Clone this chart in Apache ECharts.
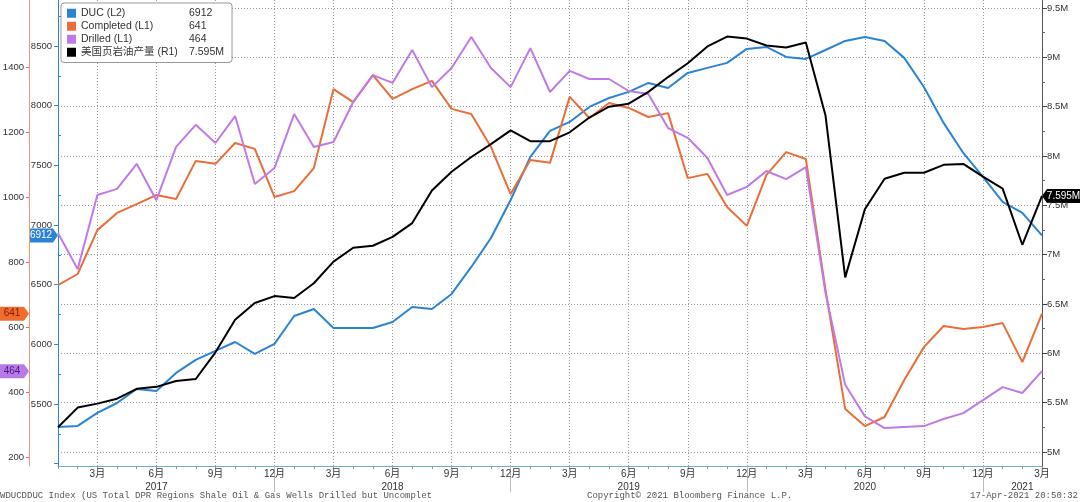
<!DOCTYPE html>
<html><head><meta charset="utf-8">
<script src="https://cdn.jsdelivr.net/npm/echarts@6/dist/echarts.min.js"></script>
<style>html,body{margin:0;padding:0;background:#fff}#c{width:1080px;height:502px}</style>
</head><body><div id="c"></div>
<script>
const categories = ['2017-01','2017-02','2017-03','2017-04','2017-05','2017-06','2017-07','2017-08','2017-09','2017-10','2017-11','2017-12',
'2018-01','2018-02','2018-03','2018-04','2018-05','2018-06','2018-07','2018-08','2018-09','2018-10','2018-11','2018-12',
'2019-01','2019-02','2019-03','2019-04','2019-05','2019-06','2019-07','2019-08','2019-09','2019-10','2019-11','2019-12',
'2020-01','2020-02','2020-03','2020-04','2020-05','2020-06','2020-07','2020-08','2020-09','2020-10','2020-11','2020-12',
'2021-01','2021-02','2021-03'];
const ducValues = [5307,5316,5425,5508,5626,5609,5760,5869,5944,6019,5919,6003,6237,6296,6137,
6137,6137,6187,6313,6296,6422,6648,6891,7209,7570,7788,7863,7989,8064,
8115,8190,8148,8274,8316,8358,8475,8492,8408,8391,8466,8542,8575,
8542,8400,8156,7855,7603,7402,7193,7101,6912];
const completedValues = [729,763,898,951,978,1006,994,1111,1102,1166,1148,1000,1018,1089,1332,
1292,1375,1302,1332,1357,1271,1255,1154,1009,1114,1105,1308,1243,1289,
1274,1246,1258,1058,1071,969,911,1068,1138,1117,714,348,295,
323,437,538,603,594,600,612,492,641];
const drilledValues = [889,778,1006,1025,1102,990,1154,1222,1166,1249,1040,1089,1255,1154,1169,
1292,1375,1351,1452,1338,1397,1492,1397,1338,1458,1323,1388,1363,1363,
1326,1317,1212,1182,1120,1006,1031,1080,1055,1092,705,422,325,
289,292,295,317,335,375,415,397,464];
const productionValues = [5.25,5.45,5.49,5.54,5.64,5.66,5.72,5.74,6.01,6.34,6.51,6.58,6.56,6.71,6.93,
7.07,7.09,7.18,7.32,7.65,7.84,7.99,8.12,8.26,8.15,8.15,8.24,8.39,8.50,
8.53,8.65,8.80,8.94,9.11,9.21,9.19,9.12,9.10,9.15,8.41,6.77,7.46,
7.77,7.83,7.83,7.91,7.92,7.79,7.67,7.10,7.595];
const l1Ticks = [200,400,600,800,1000,1200,1400];
const l2Ticks = [5500,6000,6500,7000,7500,8000,8500];
const l2TickMarks = [5000,5500,6000,6500,7000,7500,8000,8500];
const l2MinorTicks = [5250,5750,6250,6750,7250,7750,8250,8750];
const r1Ticks = [5,5.5,6,6.5,7,7.5,8,8.5,9,9.5];
const r1MinorTicks = [5.25,5.75,6.25,6.75,7.25,7.75,8.25,8.75,9.25];
const seriesNames = ['DUC (L2)','Completed (L1)','Drilled (L1)','美国页岩油产量 (R1)'];
const lastLabels = ['6912','641','464','7.595M'];
const colors = ['#2b83d6','#ea6e38','#c07ae8','#000000'];

const FONT = "'Liberation Sans','Noto Sans CJK SC',sans-serif";
const chart = echarts.init(document.getElementById('c'));
const mOf = v => +v.slice(5);
const option = {
  animation: false,
  backgroundColor: '#fff',
  grid: {left: 58, right: 38, top: 0, bottom: 36, containLabel: false, outerBoundsMode: 'none'},
  legend: {
    orient: 'vertical', left: 61, top: 3, padding: [5, 8, 5, 6],
    backgroundColor: '#fff', borderColor: '#999', borderWidth: 1, borderRadius: 3,
    itemWidth: 9, itemHeight: 9, itemGap: 2.5, icon: 'rect',
    data: seriesNames,
    formatter: name => '{n|' + name + '}{v|' + lastLabels[seriesNames.indexOf(name)] + '}',
    textStyle: {fontFamily: FONT, fontSize: 10.5, color: '#333',
      rich: {n: {width: 108, fontFamily: FONT, fontSize: 10.5, color: '#333'}, v: {fontFamily: FONT, fontSize: 10.5, color: '#333'}}}
  },
  xAxis: [{
    type: 'category', data: categories, boundaryGap: false,
    axisLine: {lineStyle: {color: '#6aaee0', width: 1}},
    axisTick: {show: true, interval: 0, length: 3, lineStyle: {color: '#999'}},
    axisLabel: {
      interval: (i, v) => mOf(v) % 3 === 0 || v === '2021-02',
      formatter: v => { const y = v.slice(0, 4), m = mOf(v);
        if (v === '2021-02') return '\n' + y;
        if (m === 6) return '6月\n' + y;
        return m + '月'; },
      fontFamily: FONT, fontSize: 10, color: '#333', lineHeight: 13, margin: 2
    },
    splitLine: {show: true, interval: (i, v) => mOf(v) % 3 === 0, lineStyle: {color: '#999', type: [1, 2], width: 1}}
  }, {
    type: 'category', data: categories, boundaryGap: false, position: 'bottom',
    axisLine: {show: false}, axisLabel: {show: false}, splitLine: {show: false},
    axisTick: {show: true, interval: (i, v) => mOf(v) === 12, length: 26, lineStyle: {color: '#bbb'}}
  }],
  yAxis: [{
    type: 'value', position: 'left', offset: 29, min: 172.3, max: 1606,
    axisLine: {show: true, lineStyle: {color: '#ee9a72', width: 1}},
    axisTick: {show: true, length: 3, customValues: l1Ticks, lineStyle: {color: '#ea6e38'}},
    axisLabel: {customValues: l1Ticks, formatter: v => String(v), fontFamily: FONT, fontSize: 9.5, color: '#333', margin: 5},
    splitLine: {show: false}
  }, {
    type: 'value', position: 'left', offset: 0, min: 4980, max: 8885,
    axisLine: {show: true, lineStyle: {color: '#2b83d6', width: 1}},
    axisTick: {show: true, length: 4, customValues: l2TickMarks, lineStyle: {color: '#2b83d6'}},
    axisLabel: {customValues: l2Ticks, formatter: v => String(v), fontFamily: FONT, fontSize: 9.5, color: '#333', margin: 6},
    splitLine: {show: false}
  }, {
    type: 'value', position: 'right', offset: 0, min: 4.858, max: 9.581,
    axisLine: {show: true, lineStyle: {color: '#555', width: 1}},
    axisTick: {show: true, length: 5, customValues: r1Ticks, lineStyle: {color: '#444'}},
    axisLabel: {customValues: r1Ticks, formatter: v => v + 'M', fontFamily: FONT, fontSize: 9.5, color: '#333', margin: 5},
    splitLine: {show: true, lineStyle: {color: '#999', type: [1, 2], width: 1}}
  }, {
    type: 'value', position: 'right', offset: 0, min: 4.858, max: 9.581,
    axisLine: {show: false}, axisLabel: {show: false}, splitLine: {show: false},
    axisTick: {show: true, length: 3, customValues: r1MinorTicks, lineStyle: {color: '#666'}}
  }, {
    type: 'value', position: 'left', offset: 0, min: 4980, max: 8885,
    axisLine: {show: false}, axisLabel: {show: false}, splitLine: {show: false},
    axisTick: {show: true, inside: true, length: 3, customValues: l2MinorTicks, lineStyle: {color: '#2b83d6'}}
  }],
  series: [
    {name: seriesNames[0], type: 'line', yAxisIndex: 1, data: ducValues, symbol: 'none', lineStyle: {width: 2, color: colors[0]}, itemStyle: {color: colors[0]}, z: 3},
    {name: seriesNames[1], type: 'line', yAxisIndex: 0, data: completedValues, symbol: 'none', lineStyle: {width: 2, color: colors[1]}, itemStyle: {color: colors[1]}, z: 3},
    {name: seriesNames[2], type: 'line', yAxisIndex: 0, data: drilledValues, symbol: 'none', lineStyle: {width: 2, color: colors[2]}, itemStyle: {color: colors[2]}, z: 3},
    {name: seriesNames[3], type: 'line', yAxisIndex: 2, data: productionValues, symbol: 'none', lineStyle: {width: 2, color: colors[3]}, itemStyle: {color: colors[3]}, z: 4}
  ]
};
chart.setOption(option);

function leftTag(x0, x1, y, text, fill, textColor) {
  return {type: 'group', children: [
    {type: 'polygon', shape: {points: [[x0, y - 7], [x1 - 5, y - 7], [x1, y], [x1 - 5, y + 7], [x0, y + 7]]}, style: {fill: fill}},
    {type: 'text', style: {text: text, x: (x0 + x1 - 5) / 2, y: y, align: 'center', verticalAlign: 'middle', fill: textColor, font: "10px 'Liberation Sans',sans-serif"}}
  ]};
}
function rightTag(x0, x1, y, text, fill, textColor) {
  return {type: 'group', children: [
    {type: 'polygon', shape: {points: [[x0, y], [x0 + 5, y - 7], [x1, y - 7], [x1, y + 7], [x0 + 5, y + 7]]}, style: {fill: fill}},
    {type: 'text', style: {text: text, x: (x0 + 5 + x1) / 2, y: y, align: 'center', verticalAlign: 'middle', fill: textColor, font: "10px 'Liberation Sans',sans-serif"}}
  ]};
}
const yDuc = chart.convertToPixel({yAxisIndex: 1}, ducValues[ducValues.length - 1]);
const yComp = chart.convertToPixel({yAxisIndex: 0}, completedValues[completedValues.length - 1]);
const yDrill = chart.convertToPixel({yAxisIndex: 0}, drilledValues[drilledValues.length - 1]);
const yProd = chart.convertToPixel({yAxisIndex: 2}, productionValues[productionValues.length - 1]);
const monoFont = "9px 'Liberation Mono',monospace";
chart.setOption({graphic: [
  leftTag(29, 58, yDuc, lastLabels[0], '#2b83d6', '#fff'),
  leftTag(0, 29, yComp, lastLabels[1], '#f06d2f', '#8a1800'),
  leftTag(0, 29, yDrill, lastLabels[2], '#b97ae9', '#4a1a7a'),
  rightTag(1042, 1080, yProd, lastLabels[3], '#000', '#fff'),
  {type: 'text', left: 0, top: 491, style: {text: 'WDUCDDUC Index (US Total DPR Regions Shale Oil & Gas Wells Drilled but Uncomplet', font: monoFont, fill: '#555'}},
  {type: 'text', left: 587, top: 491, style: {text: 'Copyright© 2021 Bloomberg Finance L.P.', font: monoFont, fill: '#555'}},
  {type: 'text', right: 2, top: 491, style: {text: '17-Apr-2021 20:50:32', font: monoFont, fill: '#555'}}
]});
</script></body></html>
